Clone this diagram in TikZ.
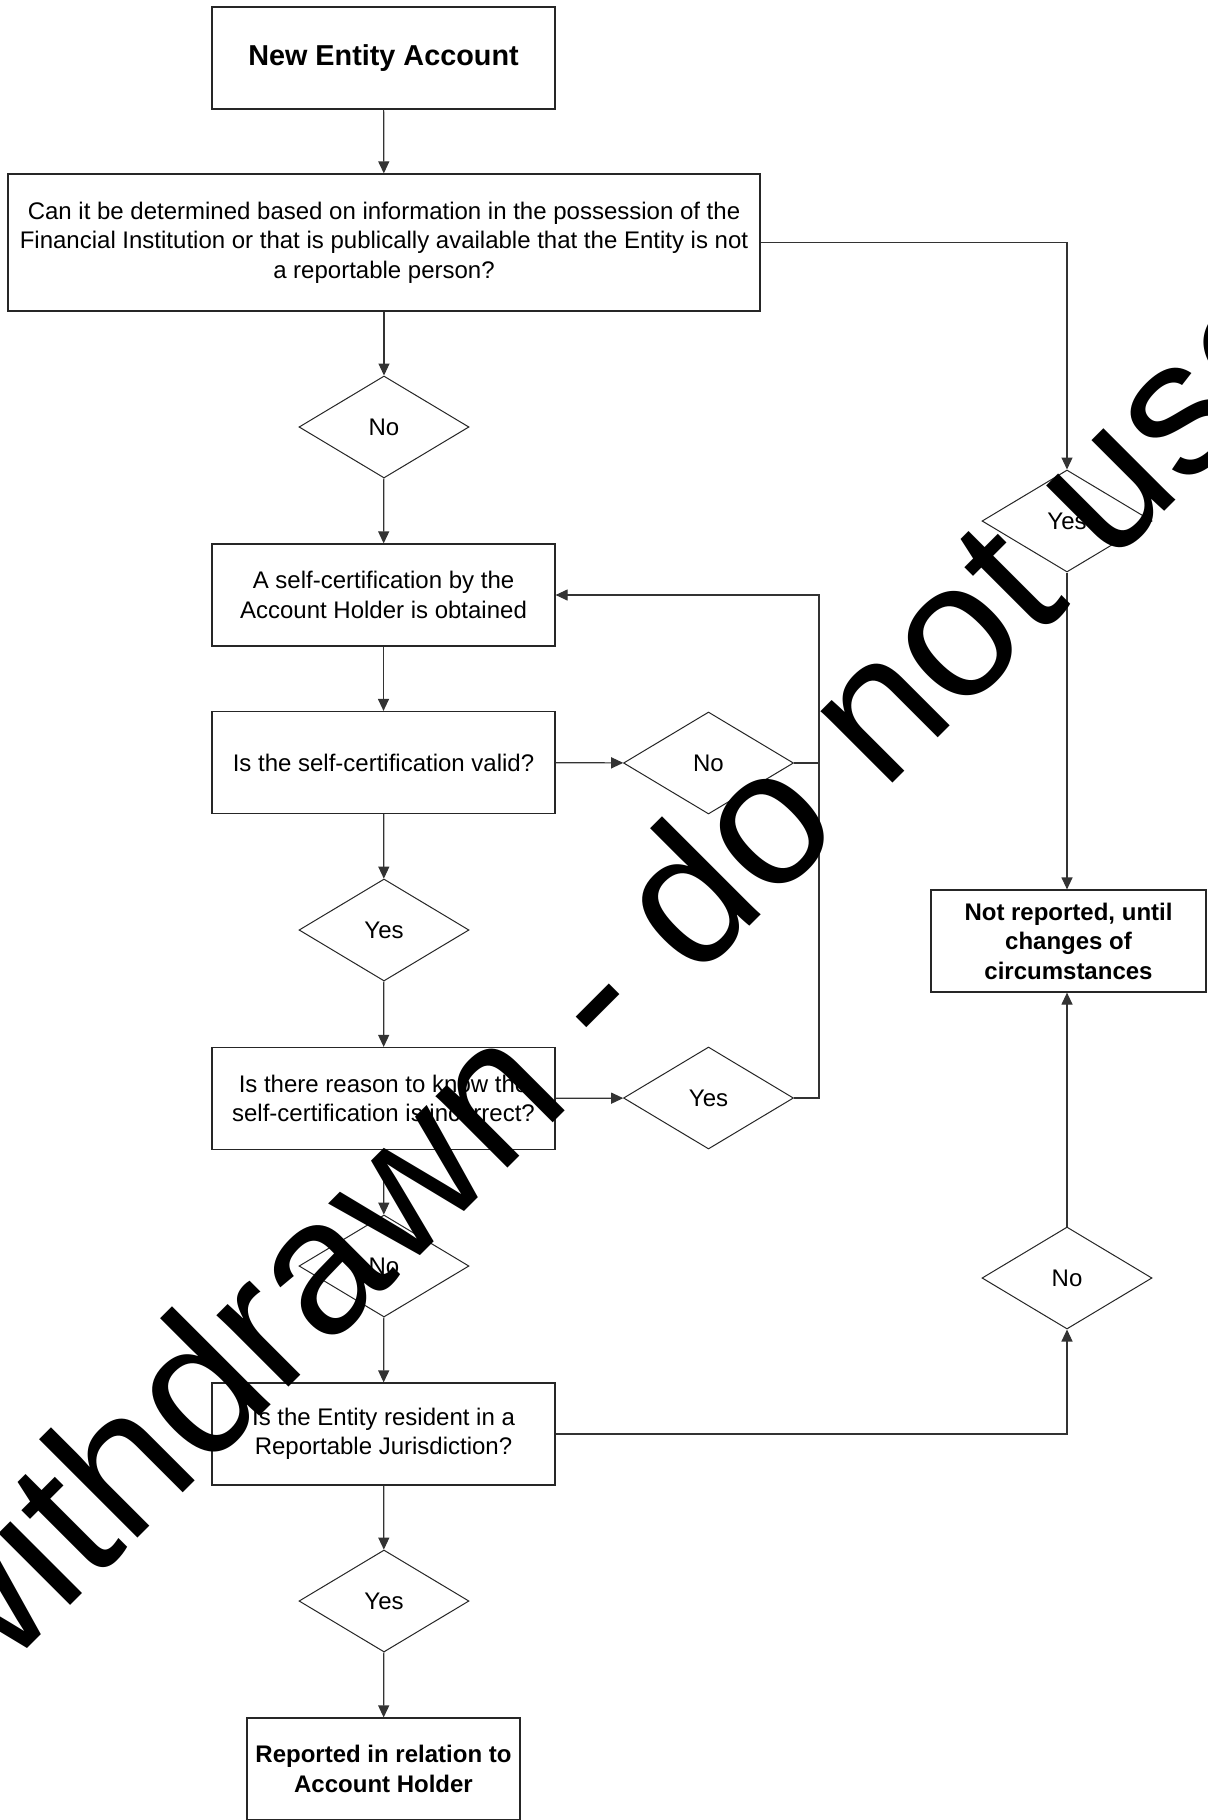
\documentclass[tikz,border=0pt]{standalone}
\usepackage{fontspec}
\setmainfont{Liberation Sans}
\usetikzlibrary{shapes.geometric,arrows.meta}
\begin{document}
\begin{tikzpicture}[x=0.5pt,y=-0.5pt,
  txt/.style={font=\fontsize{12}{14.75}\selectfont},
  box/.style={txt, draw=black!85, line width=0.6pt, minimum width=171.5pt, minimum height=51pt, align=center, inner sep=2pt},
  dec/.style={txt, draw=black!85, line width=0.5pt, diamond, minimum width=85pt, minimum height=51pt, inner sep=0pt},
  ln/.style={draw=black!80, line width=0.6pt},
  arr/.style={ln, -{Triangle[length=6pt,width=5.5pt]}},
  wmark/.style={font=\fontsize{96}{96}\selectfont, rotate=45, anchor=base, inner sep=0pt}]
\useasboundingbox (0,0) rectangle (1207,1820);
\fill[white] (0,0) rectangle (1207,1820);

% nodes
\node[box, font=\fontsize{14.4}{17}\selectfont\bfseries] (b1) at (383.5,58) {New Entity Account};
\node[box, minimum width=376pt, minimum height=68.5pt] (b2) at (384,242.5) {Can it be determined based on information in the possession of the\\Financial Institution or that is publically available that the Entity is not\\a reportable person?};
\node[dec] (d1) at (384,427) {No};
\node[box] (b3) at (383.5,595) {A self-certification by the\\Account Holder is obtained};
\node[box] (b4) at (383.5,762.5) {Is the self-certification valid?};
\node[dec] (d2) at (708.5,763) {No};
\node[dec] (d3) at (384,930) {Yes};
\node[box] (b5) at (383.5,1098.5) {Is there reason to know the\\self-certification is incorrect?};
\node[dec] (d4) at (708.5,1098) {Yes};
\node[dec] (d5) at (384,1266) {No};
\node[box] (b6) at (383.5,1434) {Is the Entity resident in a\\Reportable Jurisdiction?};
\node[dec] (d6) at (384,1601) {Yes};
\node[box, font=\fontsize{12}{14.75}\selectfont\bfseries, minimum width=136.5pt] (b7) at (383.5,1769) {Reported in relation to\\Account Holder};
\node[dec] (d7) at (1067,521) {Yes};
\node[box, font=\fontsize{12}{14.75}\selectfont\bfseries, minimum width=137.5pt] (nr) at (1068.5,941) {Not reported, until\\changes of\\circumstances};
\node[dec] (d8) at (1067,1278) {No};
\coordinate (loop) at (819,763);

% connectors
\draw[arr] (b1) -- (b2);
\draw[arr] (b2) -- (d1);
\draw[arr] (d1) -- (b3);
\draw[arr] (b3) -- (b4);
\draw[arr] (b4) -- (d2);
\draw[arr] (d2.east) -- (loop) |- (b3.east);
\draw[ln] (d4.east) -| (loop);
\draw[arr] (b4) -- (d3);
\draw[arr] (d3) -- (b5);
\draw[arr] (b5) -- (d4);
\draw[arr] (b5) -- (d5);
\draw[arr] (d5) -- (b6);
\draw[arr] (b6) -- (d6);
\draw[arr] (d6) -- (b7);
\draw[arr] (b2.east) -| (d7.north);
\draw[arr] (d7) -- (d7 |- nr.north);
\draw[arr] (b6.east) -| (d8.south);
\draw[arr] (d8) -- (d8 |- nr.south);

% watermark
\node[wmark] (wm) at (646,1030) {withdrawn - do not use};
\end{tikzpicture}
\end{document}
